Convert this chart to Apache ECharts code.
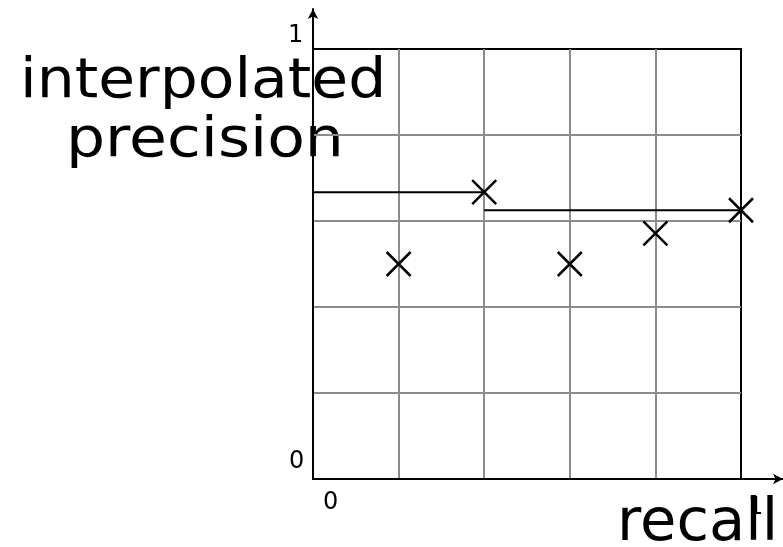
<!DOCTYPE html>
<html>
<head>
<meta charset="utf-8">
<script src="https://cdn.jsdelivr.net/npm/echarts@6/dist/echarts.min.js"></script>
<style>
html, body { margin: 0; padding: 0; background: #fff; }
#main { width: 783px; height: 547px; }
</style>
</head>
<body>
<div id="main"></div>
<script>
var myChart = echarts.init(document.getElementById('main'));

// recall / precision points
var recall = [0.2, 0.4, 0.6, 0.8, 1.0];
var precision = [0.5, 0.667, 0.5, 0.571, 0.625];
// interpolated precision steps
var stepFrom = [0, 0.4];
var stepTo = [0.4, 1.0];
var stepValue = [0.667, 0.625];
var tickLabels = ['0', '1'];

var font = '"DejaVu Sans"';
var crossPath = 'path://M0,0L10,10M10,0L0,10';

var points = recall.map(function (r, i) { return [r, precision[i]]; });

var series = [{
    type: 'scatter',
    xAxisIndex: 0,
    yAxisIndex: 0,
    symbol: crossPath,
    symbolSize: 24,
    itemStyle: { color: 'none', borderColor: '#000', borderWidth: 2.5, opacity: 1 },
    data: points,
    z: 5
}];
for (var i = 0; i < stepFrom.length; i++) {
    series.push({
        type: 'line',
        xAxisIndex: 0,
        yAxisIndex: 0,
        symbol: 'none',
        lineStyle: { color: '#000', width: 2 },
        data: [[stepFrom[i], stepValue[i]], [stepTo[i], stepValue[i]]],
        z: 4
    });
}

function label(text, x, y, size, sx) {
    return {
        type: 'text', x: x, y: y, scaleX: sx || 1,
        style: { text: text, font: size + 'px ' + font, fill: '#000', verticalAlign: 'top' }
    };
}

var option = {
    backgroundColor: '#fff',
    animation: false,
    grid: [{
        left: 313, top: 49, width: 428, height: 430,
        show: true, borderColor: '#000', borderWidth: 2
    }, {
        left: 313, top: 9, width: 470, height: 470
    }],
    xAxis: [{
        type: 'value', gridIndex: 0, min: 0, max: 1, interval: 0.2,
        axisLine: { show: false }, axisTick: { show: false }, axisLabel: { show: false },
        splitLine: { show: true, showMinLine: false, showMaxLine: false, lineStyle: { color: '#8c8c8c', width: 2 } }
    }, {
        type: 'value', gridIndex: 1, min: 0, max: 1,
        axisLine: { show: true, onZero: false, symbol: ['none', 'arrow'], symbolSize: [8, 10], lineStyle: { color: '#000', width: 2 } },
        axisTick: { show: false }, axisLabel: { show: false }, splitLine: { show: false }
    }],
    yAxis: [{
        type: 'value', gridIndex: 0, min: 0, max: 1, interval: 0.2,
        axisLine: { show: false }, axisTick: { show: false }, axisLabel: { show: false },
        splitLine: { show: true, showMinLine: false, showMaxLine: false, lineStyle: { color: '#8c8c8c', width: 2 } }
    }, {
        type: 'value', gridIndex: 1, min: 0, max: 1,
        axisLine: { show: true, onZero: false, symbol: ['none', 'arrow'], symbolSize: [8, 10], lineStyle: { color: '#000', width: 2 } },
        axisTick: { show: false }, axisLabel: { show: false }, splitLine: { show: false }
    }],
    graphic: [
        label('interpolated', 20, 55, 55, 1.09),
        label('precision', 66, 114, 55, 1.12),
        label('recall', 617, 496, 58, 1.02),
        label(tickLabels[0], 289, 450, 24),
        label(tickLabels[0], 323, 491, 24),
        label(tickLabels[1], 288, 24, 24),
        label(tickLabels[1], 748, 496, 24)
    ],
    series: series
};

myChart.setOption(option);
</script>
</body>
</html>
